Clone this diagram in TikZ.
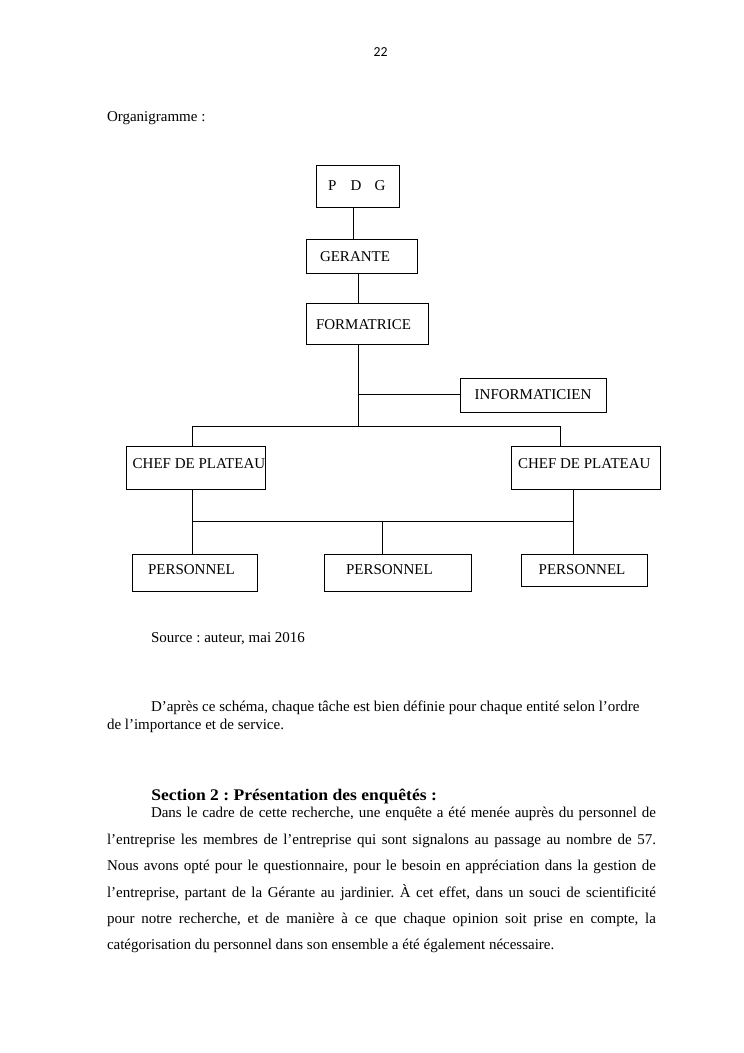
\documentclass[tikz,border=0pt]{standalone}
\usepackage{fontspec}
\setmainfont{Liberation Serif}
\newfontfamily\calib{Carlito}
\frenchspacing
\begin{document}
\begin{tikzpicture}[x=0.8pt,y=-0.8pt,
  orgbox/.style={draw, line width=0.75pt, inner sep=0pt, outer sep=0pt},
  lbl/.style={anchor=base west, inner sep=0pt, outer sep=0pt, font=\fontsize{12}{14}\selectfont},
  txt/.style={anchor=base west, inner sep=0pt, outer sep=0pt, font=\fontsize{12}{14}\selectfont},
  conn/.style={line width=0.75pt}]
\useasboundingbox (0,0) rectangle (744,1053);
\fill[white] (0,0) rectangle (744,1053);

% page number and title
\node[anchor=base, inner sep=0pt, font=\calib\fontsize{11}{13}\selectfont] (pagenum) at (380.5,56.5) {22};
\node[txt] (titre) at (107,121) {Organigramme :};

% boxes
\node[orgbox, minimum width=66.4pt, minimum height=33.6pt] (pdg) at (357.5,186) {};
\node[orgbox, minimum width=88.8pt, minimum height=27.2pt] (ger) at (361.5,256) {};
\node[orgbox, minimum width=97.6pt, minimum height=32.8pt] (for) at (367,323.5) {};
\node[orgbox, minimum width=116.8pt, minimum height=27.2pt] (inf) at (533.7,395.3) {};
\node[orgbox, minimum width=110.9pt, minimum height=34.6pt] (ch1) at (196,467.65) {};
\node[orgbox, minimum width=119.2pt, minimum height=34.4pt] (ch2) at (585.5,467.5) {};
\node[orgbox, minimum width=100pt, minimum height=29.6pt] (p1) at (194.8,572.5) {};
\node[orgbox, minimum width=117.9pt, minimum height=29.6pt] (p2) at (398,572.5) {};
\node[orgbox, minimum width=100.8pt, minimum height=25.8pt] (p3) at (584.7,570.15) {};

% box labels
\node[lbl] (tpdg) at (328,190.5) {P\hspace{11.5pt}D\hspace{10.5pt}G};
\node[lbl] (tger) at (320,261) {GERANTE};
\node[lbl] (tfor) at (316,329.5) {FORMATRICE};
\node[lbl] (tinf) at (474.7,399) {INFORMATICIEN};
\node[lbl] (tch1) at (132.7,468) {CHEF DE PLATEAU};
\node[lbl] (tch2) at (518,468) {CHEF DE PLATEAU};
\node[lbl] (tp1) at (148,574.5) {PERSONNEL};
\node[lbl] (tp2) at (346,574.5) {PERSONNEL};
\node[lbl] (tp3) at (538.7,574.5) {PERSONNEL};

% connectors
\coordinate (a1) at (353.3,0);
\coordinate (a2) at (358.5,0);
\coordinate (j0) at (358.5,394);
\coordinate (j1) at (358.5,426.5);
\coordinate (b1) at (192.3,426.5);
\coordinate (b2) at (560,426.5);
\coordinate (c1) at (192.3,521);
\coordinate (c2) at (573,521);
\coordinate (c3) at (382.3,521);
\draw[conn] (pdg.south -| a1) -- (ger.north -| a1);
\draw[conn] (ger.south -| a2) -- (for.north -| a2);
\draw[conn] (for.south -| a2) -- (j1);
\draw[conn] (j0) -- (inf.west |- j0);
\draw[conn] (ch1.north -| b1) -- (b1) -- (b2) -- (ch2.north -| b2);
\draw[conn] (ch1.south -| c1) -- (p1.north -| c1);
\draw[conn] (ch2.south -| c2) -- (p3.north -| c2);
\draw[conn] (c1) -- (c2);
\draw[conn] (c3) -- (p2.north -| c3);

% text below
\node[txt] (source) at (151,642) {Source : auteur, mai 2016};
\node[txt] (dap1) at (151,711) {D’après ce schéma, chaque tâche est bien définie pour chaque entité selon l’ordre};
\node[txt] (dap2) at (107,729) {de l’importance et de service.};
\node[anchor=base west, inner sep=0pt, font=\bfseries\fontsize{13}{15}\selectfont] (sec) at (151,800) {\scalebox{1.08}[1]{Section 2 : Présentation des enquêtés :}};
\node[txt] (l1) at (151,817) {\makebox[404pt][s]{Dans le cadre de cette recherche, une enquête a été menée auprès du personnel de}};
\node[txt] (l2) at (107,844) {\makebox[439.2pt][s]{l’entreprise les membres de l’entreprise qui sont signalons au passage au nombre de 57.}};
\node[txt] (l3) at (107,870.5) {\makebox[439.2pt][s]{Nous avons opté pour le questionnaire, pour le besoin en appréciation dans la gestion de}};
\node[txt] (l4) at (107,897) {\makebox[439.2pt][s]{l’entreprise, partant de la Gérante au jardinier. À cet effet, dans un souci de scientificité}};
\node[txt] (l5) at (107,923) {\makebox[439.2pt][s]{pour notre recherche, et de manière à ce que chaque opinion soit prise en compte, la}};
\node[txt] (l6) at (107,949) {catégorisation du personnel dans son ensemble a été également nécessaire.};
\end{tikzpicture}
\end{document}
